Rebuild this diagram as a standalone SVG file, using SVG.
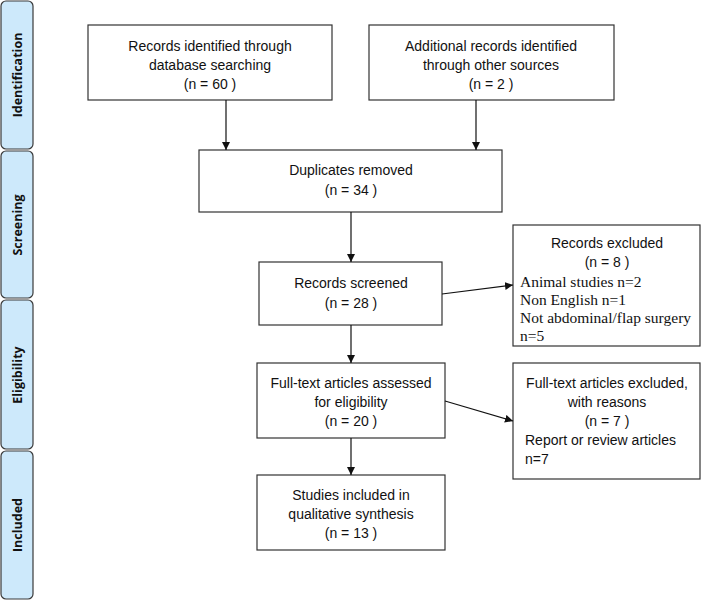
<svg xmlns="http://www.w3.org/2000/svg" width="702" height="601" viewBox="0 0 702 601">
<style>
.side{fill:#cde9fb;stroke:#3a3a3a;stroke-width:1.2}
.sl{font-family:"Open Sans","Liberation Sans",sans-serif;font-weight:bold;font-size:12.5px;fill:#111;text-anchor:middle}
.box{fill:#fff;stroke:#333;stroke-width:1.2}
.t{font-family:"Liberation Sans",Arial,sans-serif;font-size:14px;fill:#111;text-anchor:middle}
.tl{font-family:"Liberation Sans",Arial,sans-serif;font-size:14px;fill:#111}
.s{font-family:"Liberation Serif","Times New Roman",serif;font-size:15.5px;fill:#111}
.c{stroke:#111;stroke-width:1.2;fill:none;marker-end:url(#ah)}
</style>
<defs>
<marker id="ah" viewBox="0 0 10 10" refX="10" refY="5" markerWidth="8" markerHeight="8" markerUnits="userSpaceOnUse" orient="auto">
<path d="M0,0 L10,5 L0,10 Z" fill="#111"/>
</marker>
</defs>
<rect width="702" height="601" fill="#fff"/>
<g id="phase-identification"><rect class="side" x="1" y="1" width="32" height="148" rx="5"/><text class="sl" transform="translate(22,75) rotate(-90)">Identification</text></g>
<g id="phase-screening"><rect class="side" x="1" y="151" width="32" height="147" rx="5"/><text class="sl" transform="translate(22,225) rotate(-90)">Screening</text></g>
<g id="phase-eligibility"><rect class="side" x="1" y="300" width="32" height="149" rx="5"/><text class="sl" transform="translate(22,375) rotate(-90)">Eligibility</text></g>
<g id="phase-included"><rect class="side" x="1" y="451" width="32" height="148" rx="5"/><text class="sl" transform="translate(22,525) rotate(-90)">Included</text></g>

<g id="db-records"><rect class="box" x="88" y="25" width="244" height="75"/>
<text class="t" x="210" y="51">Records identified through</text>
<text class="t" x="210" y="70">database searching</text>
<text class="t" x="210" y="89">(n = 60 )</text></g>
<g id="other-records"><rect class="box" x="369" y="25" width="245" height="75"/>
<text class="t" x="491" y="51">Additional records identified</text>
<text class="t" x="491" y="70">through other sources</text>
<text class="t" x="491" y="89">(n = 2 )</text></g>
<g id="duplicates"><rect class="box" x="199" y="150" width="303" height="62"/>
<text class="t" x="351" y="175">Duplicates removed</text>
<text class="t" x="351" y="195">(n = 34 )</text></g>
<g id="screened"><rect class="box" x="259" y="262" width="183" height="63"/>
<text class="t" x="351" y="288">Records screened</text>
<text class="t" x="351" y="308">(n = 28 )</text></g>
<g id="excluded"><rect class="box" x="513" y="225" width="187" height="121"/>
<text class="t" x="607" y="248">Records excluded</text>
<text class="t" x="607" y="267">(n = 8 )</text>
<text class="s" x="520" y="287">Animal studies n=2</text>
<text class="s" x="520" y="305">Non English n=1</text>
<text class="s" x="520" y="323">Not abdominal/flap surgery</text>
<text class="s" x="520" y="341">n=5</text></g>
<g id="fulltext"><rect class="box" x="257" y="363" width="188" height="75"/>
<text class="t" x="351" y="388">Full-text articles assessed</text>
<text class="t" x="351" y="407">for eligibility</text>
<text class="t" x="351" y="426">(n = 20  )</text></g>
<g id="fulltext-excluded"><rect class="box" x="513" y="363" width="187" height="116"/>
<text class="t" x="607" y="388">Full-text articles excluded,</text>
<text class="t" x="607" y="407">with reasons</text>
<text class="t" x="607" y="426">(n = 7 )</text>
<text class="tl" x="525" y="445">Report or review articles</text>
<text class="tl" x="525" y="464">n=7</text></g>
<g id="included"><rect class="box" x="257" y="475" width="188" height="75"/>
<text class="t" x="351" y="500">Studies included in</text>
<text class="t" x="351" y="519">qualitative synthesis</text>
<text class="t" x="351" y="538">(n = 13  )</text></g>

<g id="connectors">
<line class="c" x1="226" y1="100" x2="226" y2="150"/>
<line class="c" x1="476" y1="100" x2="476" y2="150"/>
<line class="c" x1="351" y1="212" x2="351" y2="262"/>
<line class="c" x1="442" y1="294" x2="513" y2="285"/>
<line class="c" x1="351" y1="325" x2="351" y2="363"/>
<line class="c" x1="445" y1="401" x2="513" y2="421"/>
<line class="c" x1="351" y1="438" x2="351" y2="475"/>
</g>
</svg>
